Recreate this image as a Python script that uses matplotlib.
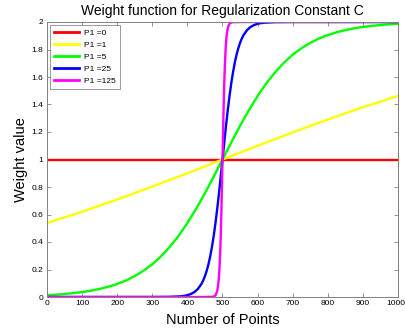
import numpy as np
import matplotlib
matplotlib.use("Agg")
import matplotlib.pyplot as plt
import matplotlib.transforms as mtransforms

plt.rcParams["font.family"] = ["Liberation Sans", "DejaVu Sans"]

# values
x_p0 = [0, 1000]
y_p0 = [1, 1]

x_p1 = [0, 100, 200, 300, 400, 500, 600, 700, 800, 900, 1000]
y_p1 = [0.538, 0.620, 0.709, 0.803, 0.900, 1.0, 1.100, 1.197, 1.291, 1.380, 1.462]

x_p5 = [0, 25, 50, 75, 100, 125, 150, 175, 200, 225, 250, 275, 300, 325, 350, 375,
        400, 425, 450, 475, 500, 525, 550, 575, 600, 625, 650, 675, 700, 725,
        750, 775, 800, 825, 850, 875, 900, 925, 950, 975, 1000]
y_p5 = [0.013, 0.017, 0.022, 0.028, 0.036, 0.046, 0.059, 0.075, 0.095, 0.120, 0.152,
        0.191, 0.238, 0.296, 0.365, 0.445, 0.538, 0.642, 0.755, 0.876, 1.0,
        1.124, 1.245, 1.358, 1.462, 1.555, 1.635, 1.704, 1.762, 1.809, 1.848,
        1.880, 1.905, 1.925, 1.941, 1.954, 1.964, 1.972, 1.978, 1.983, 1.987]

x_p25 = [0, 300, 350, 380, 390, 400, 410, 420, 430, 440, 445, 450, 455, 460, 465,
         470, 475, 480, 485, 490, 495, 500, 505, 510, 515, 520, 525, 530, 535,
         540, 545, 550, 555, 560, 570, 580, 590, 600, 610, 620, 650, 700, 1000]
y_p25 = [0.0, 0.0, 0.001, 0.005, 0.008, 0.013, 0.022, 0.036, 0.059, 0.095, 0.120,
         0.152, 0.191, 0.238, 0.296, 0.365, 0.445, 0.538, 0.642, 0.755, 0.876, 1.0,
         1.124, 1.245, 1.358, 1.462, 1.555, 1.635, 1.704, 1.762, 1.809, 1.848,
         1.880, 1.905, 1.941, 1.964, 1.978, 1.987, 1.992, 1.995, 1.999, 2.0, 2.0]

x_p125 = [0, 440, 470, 476, 480, 482, 485, 487, 489, 491, 493, 495, 497, 499, 500,
          501, 503, 505, 507, 509, 511, 513, 515, 518, 520, 524, 530, 560, 1000]
y_p125 = [0.0, 0.0, 0.001, 0.005, 0.013, 0.022, 0.046, 0.075, 0.120, 0.191, 0.296,
          0.445, 0.642, 0.876, 1.0,
          1.124, 1.358, 1.555, 1.704, 1.809, 1.880, 1.925, 1.954, 1.978, 1.987,
          1.995, 1.999, 2.0, 2.0]

series = [
    ("P1 =0", x_p0, y_p0, "#ff0000"),
    ("P1 =1", x_p1, y_p1, "#ffff00"),
    ("P1 =5", x_p5, y_p5, "#00ff00"),
    ("P1 =25", x_p25, y_p25, "#0000ff"),
    ("P1 =125", x_p125, y_p125, "#ff00ff"),
]

fig = plt.figure(figsize=(4.06, 3.34), dpi=100)
ax = fig.add_axes([47 / 406, 1 - 297 / 334, 351 / 406, 275 / 334])

for label, xs, ys, color in series:
    ax.plot(xs, ys, color=color, lw=1.7, label=label)

ax.set_xlim(0, 1000)
ax.set_ylim(0, 2)
ax.set_xticks(np.arange(0, 1001, 100))
ax.set_yticks(np.arange(0, 2.01, 0.2))
ax.set_yticklabels(["0", "0.2", "0.4", "0.6", "0.8", "1", "1.2", "1.4", "1.6", "1.8", "2"])

ax.tick_params(direction="in", top=True, right=True, length=3, width=0.6,
               labelsize=6, color="#808080", pad=2.5)
for s in ax.spines.values():
    s.set_color("#808080")
    s.set_linewidth(0.7)

# nudge the last x label so "1000" stays inside the image
last = ax.get_xticklabels()[-1]
last.set_transform(last.get_transform() + mtransforms.ScaledTranslation(-2 / 100, 0, fig.dpi_scale_trans))

ax.set_title("Weight function for Regularization Constant C", fontsize=10, pad=5)
ax.set_xlabel("Number of Points", fontsize=10.5, labelpad=4)
ax.set_ylabel("Weight value", fontsize=10.5, labelpad=3)

leg = ax.legend(loc="upper left", fontsize=6, handlelength=2.9, fancybox=False,
                borderpad=0.5, labelspacing=0.5, handletextpad=0.6,
                bbox_to_anchor=(0.0, 1.0), borderaxespad=0.4)
leg.get_frame().set_edgecolor("#808080")
leg.get_frame().set_linewidth(0.7)
for line in leg.get_lines():
    line.set_linewidth(2)

fig.savefig("out.png", dpi=100)
